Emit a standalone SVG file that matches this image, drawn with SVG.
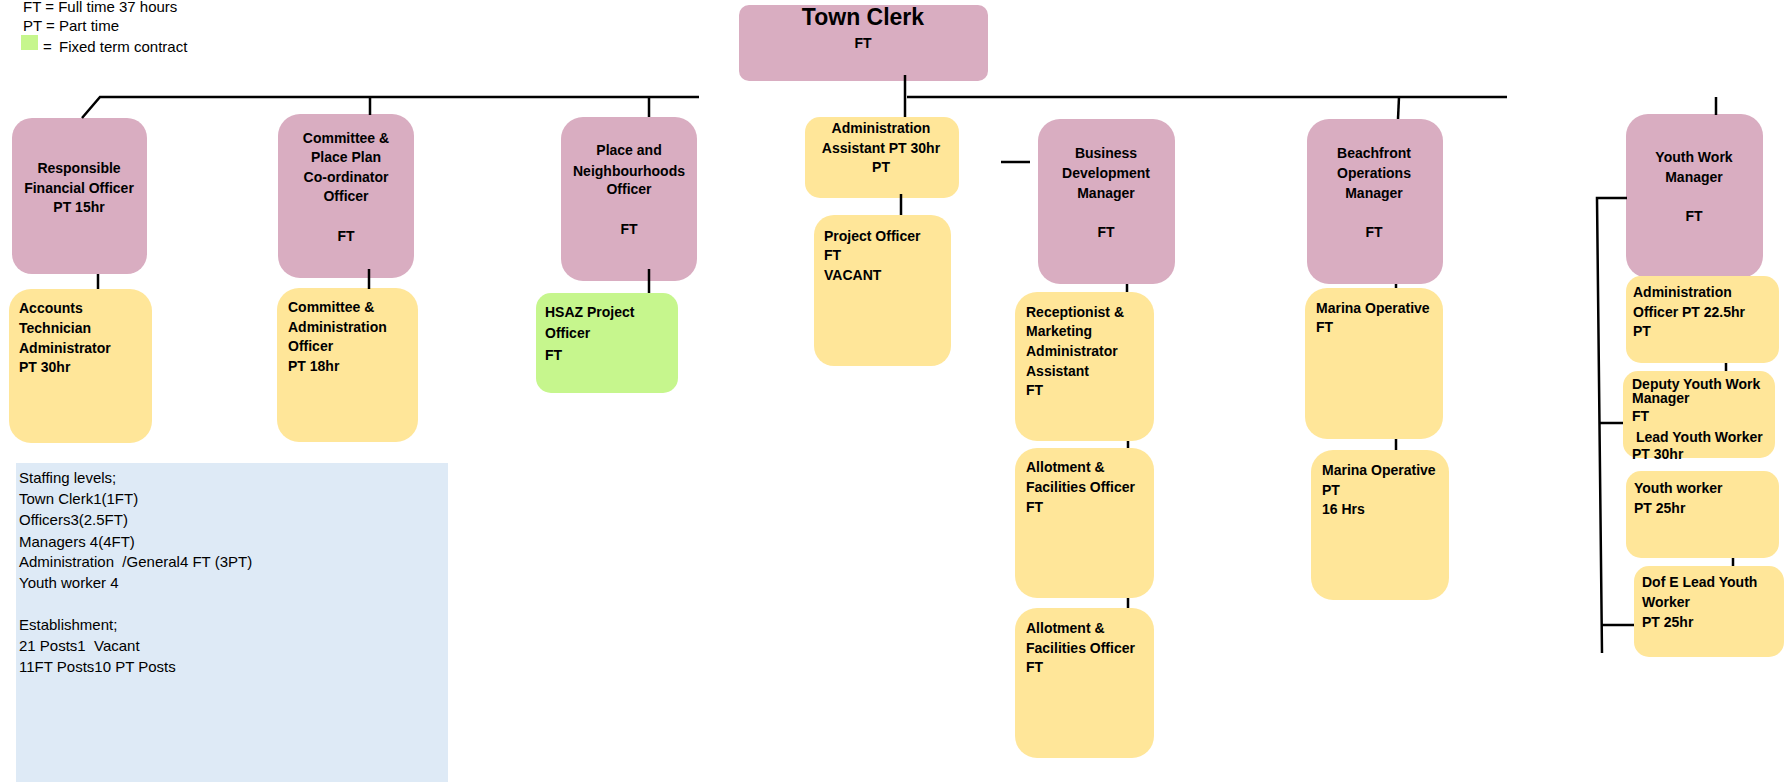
<svg xmlns="http://www.w3.org/2000/svg" width="1785" height="782" viewBox="0 0 1785 782">
<style>
text{font-family:"Liberation Sans",Arial,sans-serif;fill:#000}
.b{font-weight:bold;font-size:14px}
.c{text-anchor:middle}
.r{font-size:15px}
.pink{fill:#D9ADC1}
.yel{fill:#FFE699}
.grn{fill:#C6F68D}
.con line,.con polyline{stroke:#000;stroke-width:2.5;fill:none}
</style>
<rect width="1785" height="782" fill="#fff"/>
<g id="legend">
<text class="r" x="23" y="12">FT = Full time 37 hours</text>
<text class="r" x="23" y="31">PT = Part time</text>
<rect class="grn" x="21" y="35" width="17" height="15"/>
<text class="r" x="43" y="52">=</text>
<text class="r" x="59" y="52">Fixed term contract</text>
</g>
<g id="town-clerk">
<rect class="pink" x="739" y="5" width="249" height="76" rx="10"/>
<text class="c" x="863" y="25" font-weight="bold" font-size="23">Town Clerk</text>
<text class="b c" x="863" y="48">FT</text>
</g>
<g id="rfo">
<rect class="pink" x="12" y="118" width="135" height="156" rx="20"/>
<text class="b c"><tspan x="79" y="173">Responsible</tspan><tspan x="79" y="193">Financial  Officer</tspan><tspan x="79" y="212">PT 15hr</tspan></text>
</g>
<g id="accounts">
<rect class="yel" x="9" y="289" width="143" height="154" rx="22"/>
<text class="b"><tspan x="19" y="313">Accounts</tspan><tspan x="19" y="333">Technician</tspan><tspan x="19" y="353">Administrator</tspan><tspan x="19" y="372">PT 30hr</tspan></text>
</g>
<g id="cpp">
<rect class="pink" x="278" y="114" width="136" height="164" rx="22"/>
<text class="b c"><tspan x="346" y="143">Committee &amp;</tspan><tspan x="346" y="162">Place Plan</tspan><tspan x="346" y="182">Co-ordinator</tspan><tspan x="346" y="201">Officer</tspan><tspan x="346" y="241">FT</tspan></text>
</g>
<g id="committee-admin">
<rect class="yel" x="277" y="288" width="141" height="154" rx="22"/>
<text class="b"><tspan x="288" y="312">Committee  &amp;</tspan><tspan x="288" y="332">Administration</tspan><tspan x="288" y="351">Officer</tspan><tspan x="288" y="371">PT 18hr</tspan></text>
</g>
<g id="place-neighbourhoods">
<rect class="pink" x="561" y="117" width="136" height="164" rx="22"/>
<text class="b c"><tspan x="629" y="155">Place and</tspan><tspan x="629" y="176">Neighbourhoods</tspan><tspan x="629" y="194">Officer</tspan><tspan x="629" y="234">FT</tspan></text>
</g>
<g id="hsaz">
<rect class="grn" x="536" y="293" width="142" height="100" rx="15"/>
<text class="b"><tspan x="545" y="317">HSAZ Project</tspan><tspan x="545" y="338">Officer</tspan><tspan x="545" y="360">FT</tspan></text>
</g>
<g id="admin-assistant">
<rect class="yel" x="805" y="117" width="154" height="81" rx="15"/>
<text class="b c"><tspan x="881" y="133">Administration</tspan><tspan x="881" y="153">Assistant PT 30hr</tspan><tspan x="881" y="172">PT</tspan></text>
</g>
<g id="project-officer">
<rect class="yel" x="814" y="215" width="137" height="151" rx="20"/>
<text class="b"><tspan x="824" y="241">Project Officer</tspan><tspan x="824" y="260">FT</tspan><tspan x="824" y="280">VACANT</tspan></text>
</g>
<g id="bdm">
<rect class="pink" x="1038" y="119" width="137" height="165" rx="22"/>
<text class="b c"><tspan x="1106" y="158">Business</tspan><tspan x="1106" y="178">Development</tspan><tspan x="1106" y="198">Manager</tspan><tspan x="1106" y="237">FT</tspan></text>
</g>
<g id="receptionist">
<rect class="yel" x="1015" y="292" width="139" height="149" rx="22"/>
<text class="b"><tspan x="1026" y="317">Receptionist &amp;</tspan><tspan x="1026" y="336">Marketing</tspan><tspan x="1026" y="356">Administrator</tspan><tspan x="1026" y="376">Assistant</tspan><tspan x="1026" y="395">FT</tspan></text>
</g>
<g id="allotment-1">
<rect class="yel" x="1015" y="448" width="139" height="150" rx="22"/>
<text class="b"><tspan x="1026" y="472">Allotment &amp;</tspan><tspan x="1026" y="492">Facilities Officer</tspan><tspan x="1026" y="512">FT</tspan></text>
</g>
<g id="allotment-2">
<rect class="yel" x="1015" y="608" width="139" height="150" rx="22"/>
<text class="b"><tspan x="1026" y="633">Allotment &amp;</tspan><tspan x="1026" y="653">Facilities Officer</tspan><tspan x="1026" y="672">FT</tspan></text>
</g>
<g id="beachfront">
<rect class="pink" x="1307" y="119" width="136" height="165" rx="22"/>
<text class="b c"><tspan x="1374" y="158">Beachfront</tspan><tspan x="1374" y="178">Operations</tspan><tspan x="1374" y="198">Manager</tspan><tspan x="1374" y="237">FT</tspan></text>
</g>
<g id="marina-ft">
<rect class="yel" x="1305" y="288" width="138" height="151" rx="22"/>
<text class="b"><tspan x="1316" y="313">Marina Operative</tspan><tspan x="1316" y="332">FT</tspan></text>
</g>
<g id="marina-pt">
<rect class="yel" x="1311" y="450" width="138" height="150" rx="22"/>
<text class="b"><tspan x="1322" y="475">Marina Operative</tspan><tspan x="1322" y="495">PT</tspan><tspan x="1322" y="514">16 Hrs</tspan></text>
</g>
<g id="youth-work-manager">
<rect class="pink" x="1626" y="114" width="137" height="164" rx="22"/>
<text class="b c"><tspan x="1694" y="162">Youth Work</tspan><tspan x="1694" y="182">Manager</tspan><tspan x="1694" y="221">FT</tspan></text>
</g>
<g id="admin-officer">
<rect class="yel" x="1626" y="276" width="153" height="87" rx="15"/>
<text class="b"><tspan x="1633" y="297">Administration</tspan><tspan x="1633" y="317">Officer PT 22.5hr</tspan><tspan x="1633" y="336">PT</tspan></text>
</g>
<g id="deputy-youth">
<rect class="yel" x="1623" y="371" width="152" height="87" rx="15"/>
<text class="b"><tspan x="1632" y="389">Deputy Youth Work</tspan><tspan x="1632" y="403">Manager</tspan><tspan x="1632" y="421">FT</tspan><tspan x="1636" y="442">Lead Youth Worker</tspan><tspan x="1632" y="459">PT 30hr</tspan></text>
</g>
<g id="youth-worker">
<rect class="yel" x="1626" y="471" width="153" height="87" rx="15"/>
<text class="b"><tspan x="1634" y="493">Youth worker</tspan><tspan x="1634" y="513">PT 25hr</tspan></text>
</g>
<g id="dofe">
<rect class="yel" x="1634" y="566" width="150" height="91" rx="15"/>
<text class="b"><tspan x="1642" y="587">Dof E Lead Youth</tspan><tspan x="1642" y="607">Worker</tspan><tspan x="1642" y="627">PT 25hr</tspan></text>
</g>
<g id="staffing">
<rect x="16" y="463" width="432" height="319" fill="#DEEAF6"/>
<text class="r"><tspan x="19" y="483">Staffing levels;</tspan><tspan x="19" y="504">Town Clerk1(1FT)</tspan><tspan x="19" y="525">Officers3(2.5FT)</tspan><tspan x="19" y="547">Managers 4(4FT)</tspan><tspan x="19" y="567" xml:space="preserve">Administration  /General4 FT (3PT)</tspan><tspan x="19" y="588">Youth worker 4</tspan><tspan x="19" y="630">Establishment;</tspan><tspan x="19" y="651" xml:space="preserve">21 Posts1  Vacant</tspan><tspan x="19" y="672">11FT Posts10 PT Posts</tspan></text>
</g>
<g id="connectors" class="con">
<polyline points="82,118 100,97 699,97"/>
<line x1="905" y1="75" x2="905" y2="117"/>
<line x1="907" y1="97" x2="1507" y2="97"/>
<line x1="370" y1="97" x2="370" y2="115"/>
<line x1="649" y1="97" x2="649" y2="117"/>
<line x1="1001" y1="162" x2="1030" y2="162"/>
<line x1="1399" y1="97" x2="1398" y2="119"/>
<line x1="1716" y1="97" x2="1716" y2="115"/>
<line x1="98" y1="274" x2="98" y2="289"/>
<line x1="369" y1="269" x2="369" y2="289"/>
<line x1="649" y1="269" x2="649" y2="293"/>
<line x1="901" y1="194" x2="901" y2="215"/>
<line x1="1127" y1="284" x2="1127" y2="292"/>
<line x1="1128" y1="441" x2="1128" y2="448"/>
<line x1="1128" y1="598" x2="1128" y2="608"/>
<line x1="1396" y1="284" x2="1396" y2="288"/>
<line x1="1396" y1="439" x2="1396" y2="450"/>
<polyline points="1627,198 1597,198 1602,653"/>
<line x1="1599" y1="423" x2="1623" y2="423"/>
<line x1="1602" y1="625" x2="1634" y2="625"/>
<line x1="1726" y1="363" x2="1726" y2="371"/>
<line x1="1733" y1="558" x2="1733" y2="566"/>
</g>
</svg>
